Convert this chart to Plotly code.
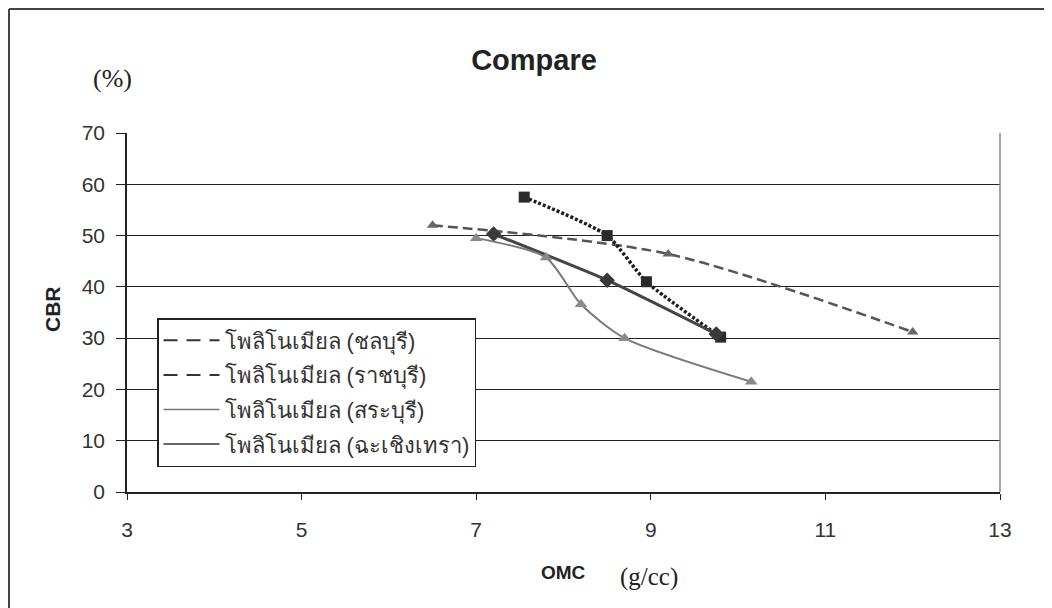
import plotly.graph_objects as go

# ---- data ----
names = ["โพลิโนเมียล (ชลบุรี)", "โพลิโนเมียล (ราชบุรี)",
         "โพลิโนเมียล (สระบุรี)", "โพลิโนเมียล (ฉะเชิงเทรา)"]

s1_x = [6.5, 9.2, 12.0]
s1_y = [52.0, 46.4, 31.2]

s2_x = [7.55, 8.5, 8.95, 9.8]
s2_y = [57.5, 50.0, 41.0, 30.2]

s3_x = [7.2, 8.5, 9.75]
s3_y = [50.3, 41.3, 30.8]

s4_x = [7.0, 7.8, 8.2, 8.7, 10.15]
s4_y = [49.5, 45.7, 36.6, 30.0, 21.5]

x_ticks = [3, 5, 7, 9, 11, 13]
y_ticks = [0, 10, 20, 30, 40, 50, 60, 70]

# page body has an 8px margin: figure is drawn 8px right/down of the viewport origin
W, H = 1044, 600
PL, PR, PT, PB = 127, 1000, 133, 492  # plot area in viewport pixels
OFF = 8


def px(vx):
    return (vx - PL) / (PR - PL)


def py(vy):
    return (PB - vy) / (PB - PT)


fig = go.Figure()

fig.add_trace(go.Scatter(x=s1_x, y=s1_y, mode="lines+markers", line_shape="spline",
                         line=dict(color="#555555", width=2.5, dash="10px,5px", smoothing=0.8),
                         marker=dict(symbol="triangle-up", size=10, color="#666666"),
                         showlegend=False))
fig.add_trace(go.Scatter(x=s2_x, y=s2_y, mode="lines+markers", line_shape="spline",
                         line=dict(color="#1e1e1e", width=3.5, dash="3px,2px", smoothing=0.6),
                         marker=dict(symbol="square", size=11, color="#2a2a2a"),
                         showlegend=False))
fig.add_trace(go.Scatter(x=s3_x, y=s3_y, mode="lines+markers", line_shape="spline",
                         line=dict(color="#444444", width=3, smoothing=0.6),
                         marker=dict(symbol="diamond", size=12, color="#3a3a3a"),
                         showlegend=False))
fig.add_trace(go.Scatter(x=s4_x, y=s4_y, mode="lines+markers", line_shape="spline",
                         line=dict(color="#7a7a7a", width=2, smoothing=0.7),
                         marker=dict(symbol="triangle-up", size=11, color="#8a8a8a"),
                         showlegend=False))

# legend entries (lines only, as in the reference legend)
leg_styles = [
    dict(color="#333333", width=2, dash="14px,9px"),
    dict(color="#333333", width=2, dash="14px,9px"),
    dict(color="#777777", width=1.5),
    dict(color="#333333", width=1.5),
]
for i, (nm, st) in enumerate(zip(names, leg_styles)):
    fig.add_trace(go.Scatter(x=[None], y=[None], mode="lines", name=nm, line=st,
                             legendgroup="g%d" % i, showlegend=True))

fig.update_layout(
    width=W, height=H,
    margin=dict(l=PL - OFF, r=W - (PR - OFF), t=PT - OFF, b=H - (PB - OFF)),
    paper_bgcolor="white", plot_bgcolor="white",
    font=dict(family="Liberation Sans, Arial, sans-serif", color="#333333", size=20),
    title=dict(text="<b>Compare</b>", x=(534 - OFF) / W, xanchor="center",
               y=1 - (60 - OFF) / H, yanchor="middle",
               font=dict(size=29, color="#222222")),
    xaxis=dict(range=[3, 13], tickvals=x_ticks, showgrid=False, zeroline=False,
               showline=True, linecolor="#222222", linewidth=1.5, mirror=False,
               ticks="outside", ticklen=6, tickcolor="#222222",
               tickfont=dict(size=21, color="#333333"), ticklabelstandoff=12),
    yaxis=dict(range=[0, 70], tickvals=y_ticks, showgrid=True, gridcolor="#222222",
               gridwidth=1.2, zeroline=False, showline=True, linecolor="#222222",
               linewidth=1.5, ticks="outside", ticklen=9, tickcolor="#222222",
               tickfont=dict(size=21, color="#333333"), ticklabelstandoff=7),
    legend=dict(x=px(157), y=py(318), xanchor="left", yanchor="top",
                bgcolor="white", bordercolor="#222222", borderwidth=1.5,
                font=dict(size=22, color="#333333"), tracegroupgap=3,
                itemwidth=56),
    showlegend=True,
)

# right border of the plot area
fig.add_shape(type="line", xref="paper", yref="paper", x0=1, x1=1, y0=0, y1=1,
              line=dict(color="#888888", width=1.5))
# outer chart frame (left & top)
fig.add_shape(type="line", xref="paper", yref="paper",
              x0=px(9), x1=px(9), y0=py(640), y1=py(9),
              line=dict(color="#444444", width=2))
fig.add_shape(type="line", xref="paper", yref="paper",
              x0=px(9), x1=px(1080), y0=py(9), y1=py(9),
              line=dict(color="#444444", width=2))

fig.add_annotation(text="(%)", xref="paper", yref="paper",
                   x=px(112), y=py(78), showarrow=False,
                   xanchor="center", yanchor="middle",
                   font=dict(family="Liberation Serif, serif", size=26, color="#222222"))
fig.add_annotation(text="<b>CBR</b>", xref="paper", yref="paper",
                   x=px(52), y=py(309), showarrow=False,
                   textangle=-90, xanchor="center", yanchor="middle",
                   font=dict(size=21, color="#222222"))
fig.add_annotation(text="<b>OMC</b>", xref="paper", yref="paper",
                   x=px(563), y=py(572), showarrow=False,
                   xanchor="center", yanchor="middle",
                   font=dict(size=19, color="#222222"))
fig.add_annotation(text="(g/cc)", xref="paper", yref="paper",
                   x=px(649), y=py(577), showarrow=False,
                   xanchor="center", yanchor="middle",
                   font=dict(family="Liberation Serif, serif", size=25, color="#222222"))

fig.write_html("out.html")
